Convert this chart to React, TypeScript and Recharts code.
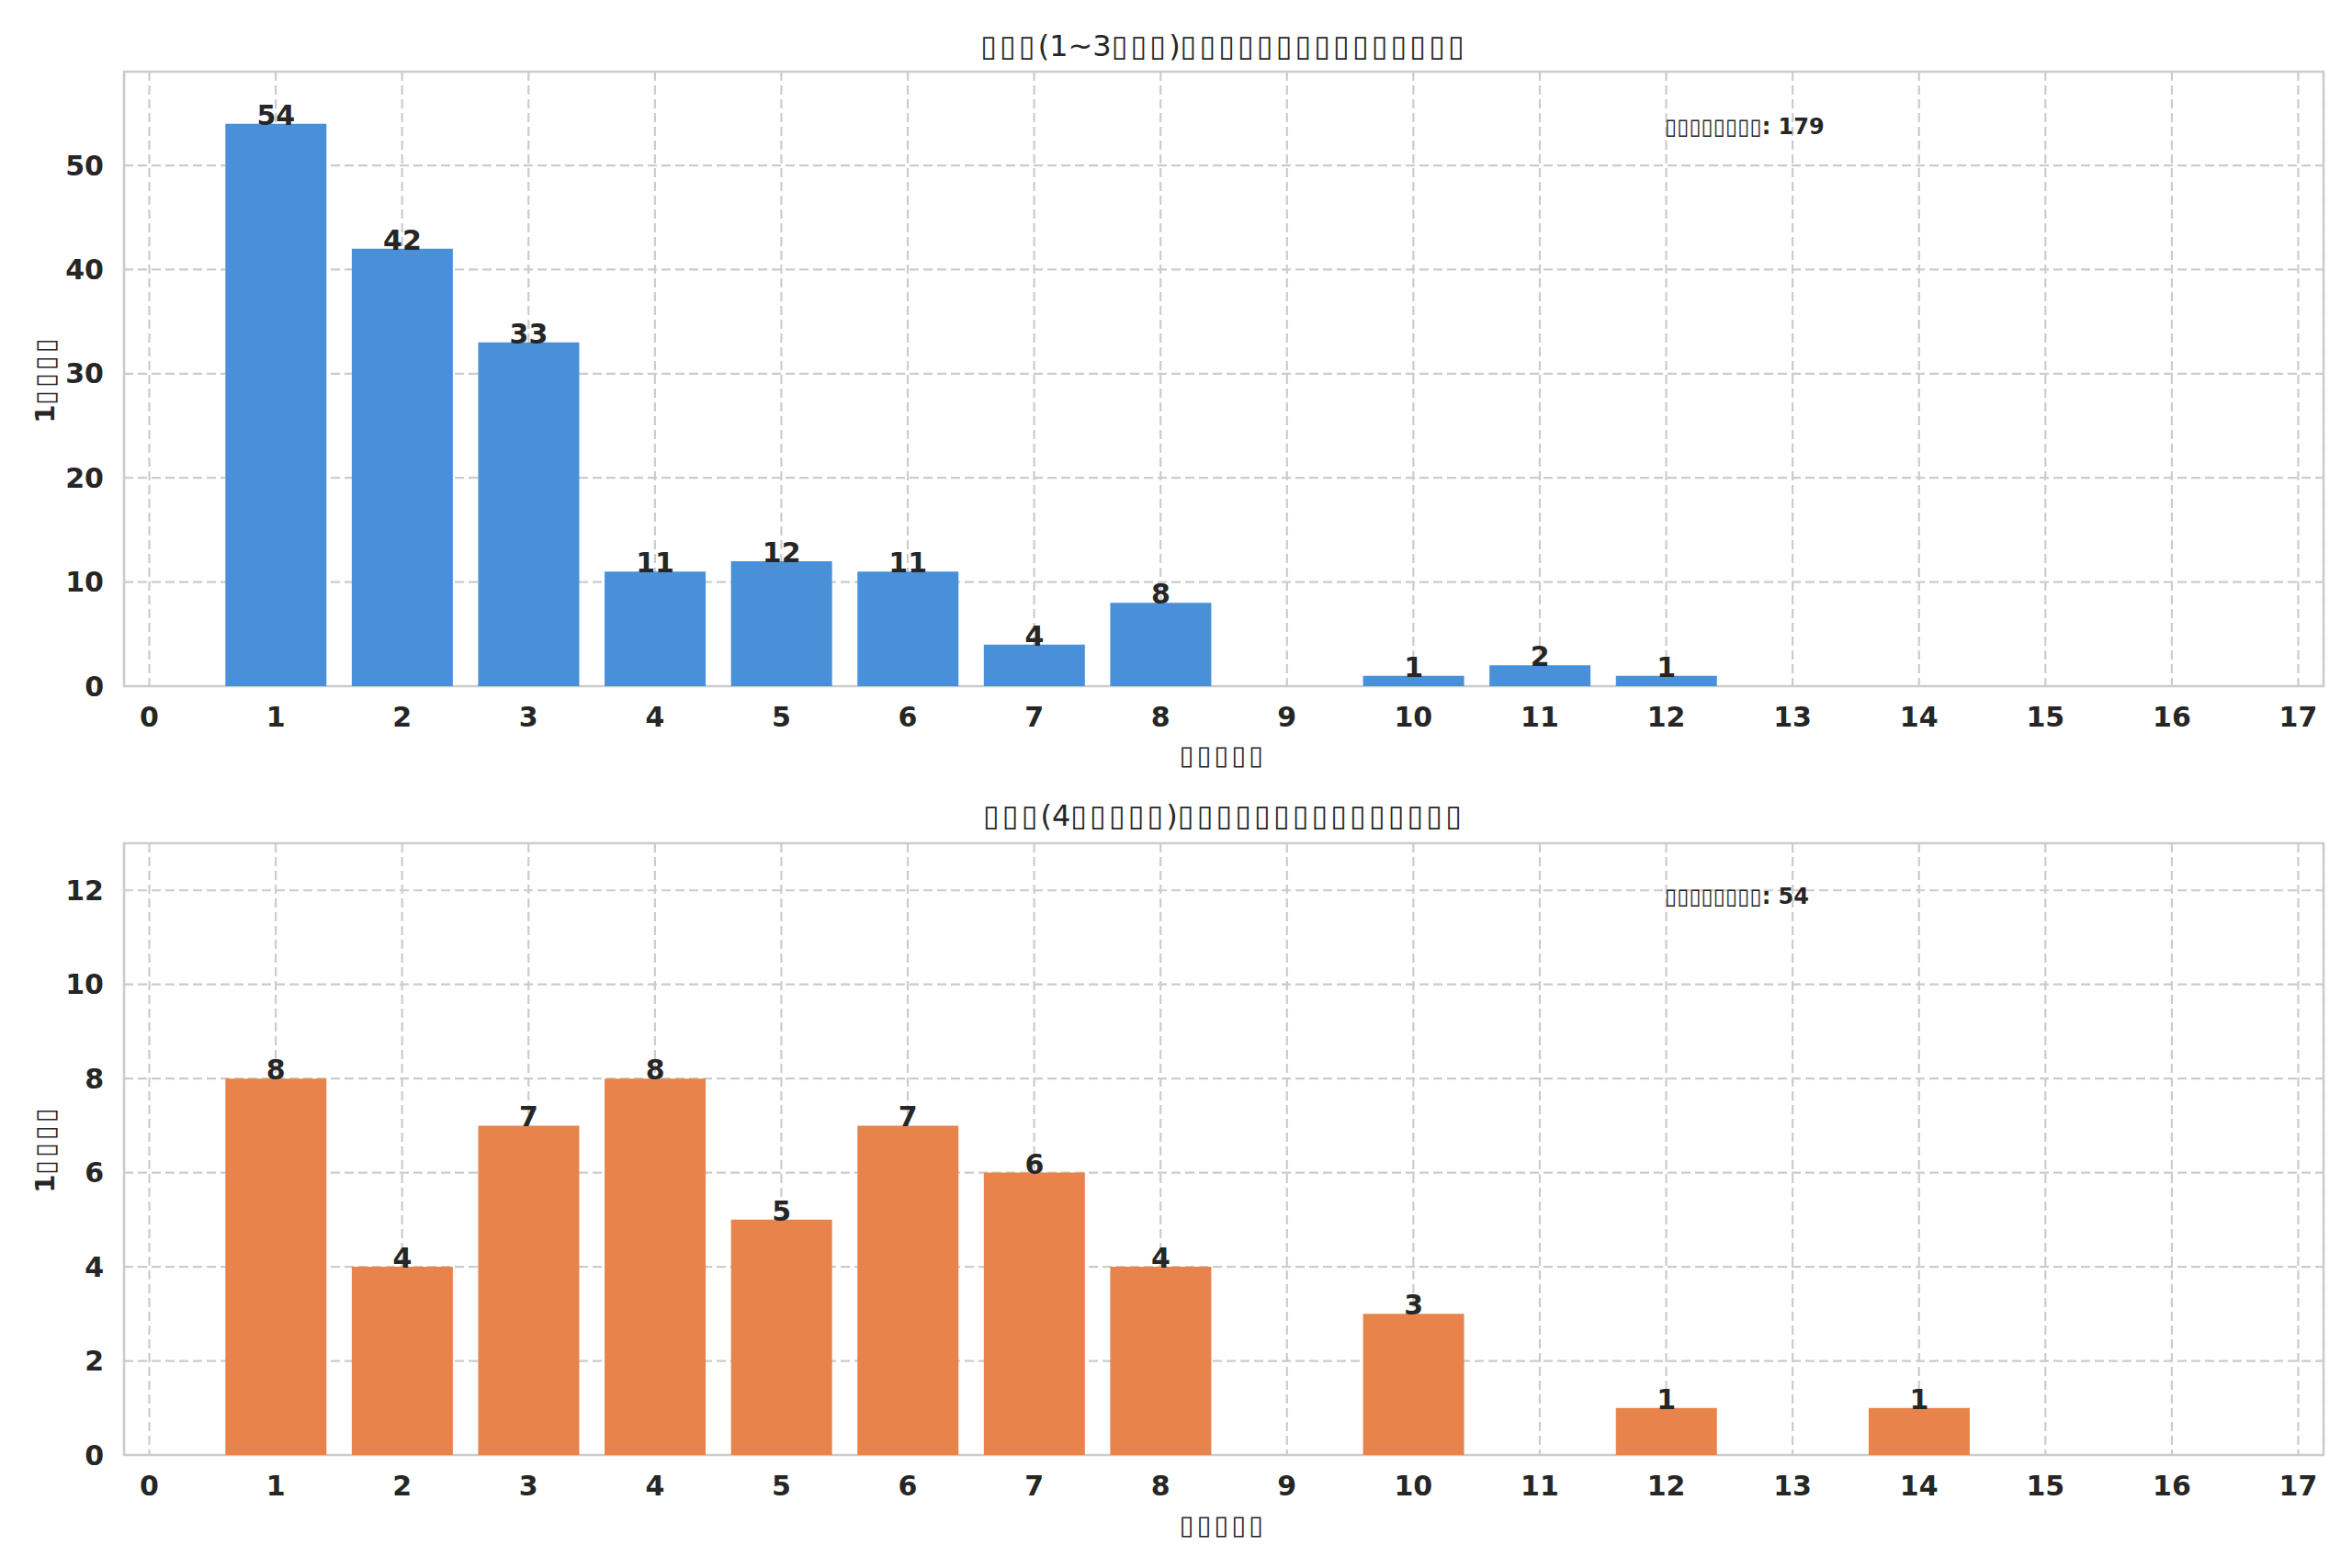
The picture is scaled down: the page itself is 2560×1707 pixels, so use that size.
import { BarChart, Bar, XAxis, YAxis, CartesianGrid, LabelList, ReferenceArea } from "recharts";

// glyphs are missing in the reference, so the labels show as empty boxes
const lightTitle = "▯▯▯(1~3▯▯▯)▯▯▯▯▯▯▯▯▯▯▯▯▯▯▯";
const heavyTitle = "▯▯▯(4▯▯▯▯▯)▯▯▯▯▯▯▯▯▯▯▯▯▯▯▯";
const xLabel = "▯▯▯▯▯";
const yLabel = "1▯▯▯▯";
const totalLabel = "▯▯▯▯▯▯▯▯";

const xTicks = [0, 1, 2, 3, 4, 5, 6, 7, 8, 9, 10, 11, 12, 13, 14, 15, 16, 17];

const lightX = [1, 2, 3, 4, 5, 6, 7, 8, 10, 11, 12];
const lightCounts = [54, 42, 33, 11, 12, 11, 4, 8, 1, 2, 1];
const lightTotal = 179;
const lightYTicks = [0, 10, 20, 30, 40, 50];

const heavyX = [1, 2, 3, 4, 5, 6, 7, 8, 10, 12, 14];
const heavyCounts = [8, 4, 7, 8, 5, 7, 6, 4, 3, 1, 1];
const heavyTotal = 54;
const heavyYTicks = [0, 2, 4, 6, 8, 10, 12];

const FONT = "DejaVu Sans";
const INK = "#262626";
const GRID = "#cccccc";

const tickStyle = { fontSize: 30, fontWeight: "bold", fill: INK, fontFamily: FONT };

function Panel({ top, height, margin, xHeight, xs, counts, yTicks, yMax, color }: any) {
  const data = xs.map((x: number, i: number) => ({ x, count: counts[i] }));
  return (
    <div style={{ position: "absolute", left: 0, top }}>
      <BarChart width={2560} height={height} data={data} margin={margin}>
        <CartesianGrid stroke={GRID} strokeWidth={2.2} strokeDasharray="10 5" />
        <XAxis
          type="number"
          dataKey="x"
          domain={[-0.2, 17.2]}
          ticks={xTicks}
          interval={0}
          allowDataOverflow
          height={xHeight}
          axisLine={false}
          tickLine={false}
          tickSize={0}
          tickMargin={23}
          tick={tickStyle}
        />
        <YAxis
          type="number"
          domain={[0, yMax]}
          ticks={yTicks}
          interval={0}
          allowDataOverflow
          width={135}
          axisLine={false}
          tickLine={false}
          tickSize={0}
          tickMargin={22}
          tick={tickStyle}
        />
        <ReferenceArea x1={-0.2} x2={17.2} y1={0} y2={yMax} fill="none" stroke={GRID} strokeWidth={2.5} ifOverflow="visible" />
        <Bar dataKey="count" fill={color} barSize={110} isAnimationActive={false}>
          <LabelList dataKey="count" position="top" offset={-1} style={tickStyle} />
        </Bar>
      </BarChart>
    </div>
  );
}

// widen the box glyphs a little so they match the reference spacing
function boxes(s: string) {
  return s.split(/(▯+)/).map((part, i) =>
    part.startsWith("▯") ? (
      <span key={i} style={{ letterSpacing: "0.1em" }}>{part}</span>
    ) : (
      <span key={i}>{part}</span>
    )
  );
}

function Txt({ x, y, size, bold, rotate, anchor, children }: any) {
  return (
    <div
      style={{
        position: "absolute",
        left: x,
        top: y,
        fontFamily: FONT,
        fontSize: size,
        fontWeight: bold ? "bold" : "normal",
        color: INK,
        lineHeight: 1,
        whiteSpace: "nowrap",
        transform: `translate(${anchor === "start" ? "0" : "-50%"}, -50%)${rotate ? " rotate(-90deg)" : ""}`,
      }}
    >
      {children}
    </div>
  );
}

export default function App() {
  return (
    <div style={{ position: "absolute", left: 0, top: 0, width: 2560, height: 1707, background: "#fff" }}>
      <Panel
        top={0}
        height={860}
        margin={{ top: 78, right: 31, bottom: 0, left: 0 }}
        xHeight={113}
        xs={lightX}
        counts={lightCounts}
        yTicks={lightYTicks}
        yMax={59}
        color="#4a90d9"
      />
      <Panel
        top={860}
        height={847}
        margin={{ top: 58, right: 31, bottom: 0, left: 0 }}
        xHeight={123}
        xs={heavyX}
        counts={heavyCounts}
        yTicks={heavyYTicks}
        yMax={13}
        color="#e8844b"
      />

      <Txt x={1332} y={50} size={32}>{boxes(lightTitle)}</Txt>
      <Txt x={1332} y={888} size={32}>{boxes(heavyTitle)}</Txt>

      <Txt x={1331} y={822} size={29} bold>{boxes(xLabel)}</Txt>
      <Txt x={1331} y={1660} size={29} bold>{boxes(xLabel)}</Txt>

      <Txt x={49} y={413} size={29} bold rotate>{boxes(yLabel)}</Txt>
      <Txt x={49} y={1251} size={29} bold rotate>{boxes(yLabel)}</Txt>

      <Txt x={1812} y={138} size={24} bold anchor="start">{totalLabel}: {lightTotal}</Txt>
      <Txt x={1812} y={976} size={24} bold anchor="start">{totalLabel}: {heavyTotal}</Txt>
    </div>
  );
}
